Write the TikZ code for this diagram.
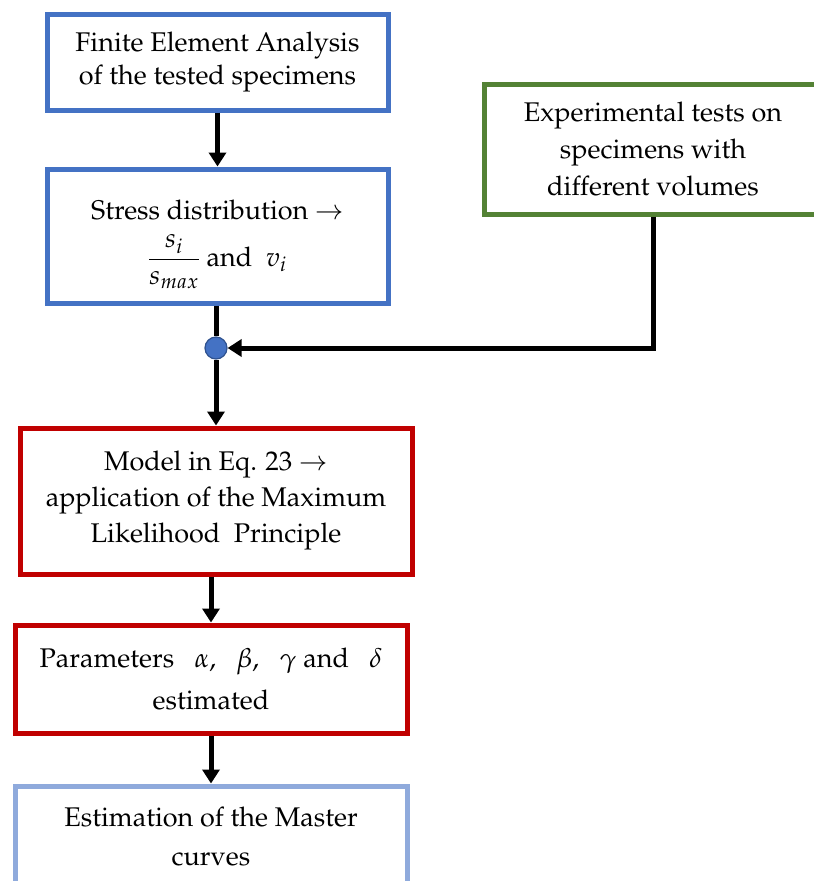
\documentclass[tikz,border=0pt]{standalone}
\usepackage[T1]{fontenc}
\usepackage{mathpazo}
\usetikzlibrary{arrows.meta}
\definecolor{cblue}{HTML}{4472C4}
\definecolor{cgreen}{HTML}{548235}
\definecolor{cred}{HTML}{C00000}
\definecolor{clight}{HTML}{8FAADC}
\definecolor{cdot}{HTML}{2F528F}
\tikzset{
  box/.style={draw, line width=5pt, rectangle, align=center, inner sep=0pt,
    font=\fontsize{27}{33}\selectfont, fill=white},
  conn/.style={line width=5pt, black, -{Triangle[width=17pt,length=14pt]}},
  plain/.style={line width=5pt, black},
}
\begin{document}
\begin{tikzpicture}[x=1pt,y=-1pt]
\useasboundingbox (0,0) rectangle (814,881);
\node[box, draw=cblue, minimum width=341pt, minimum height=96pt] (b1) at (217.5,62)
  {Finite Element Analysis\\of the tested specimens};
\node[box, draw=cblue, minimum width=341pt, minimum height=134pt] (b2) at (217.5,236)
  {\rule{0pt}{36pt}Stress distribution $\rightarrow$\\[14pt]$\displaystyle\frac{s_i}{s_{max}}$ and~~$v_i$};
\node[box, draw=cgreen, minimum width=338pt, minimum height=130pt,
  font=\fontsize{27}{37}\selectfont] (g) at (653,149)
  {Experimental tests on\\specimens with\\different volumes};
\node[circle, fill=cblue, draw=cdot, line width=1.2pt, minimum size=22pt, inner sep=0pt] (dot) at (216,348) {};
\node[box, draw=cred, minimum width=392pt, minimum height=146pt,
  font=\fontsize{27}{36}\selectfont] (b3) at (216,501)
  {Model in Eq. 23 $\rightarrow$\\application of the Maximum\\Likelihood~ Principle};
\node[box, draw=cred, minimum width=392pt, minimum height=108pt,
  font=\fontsize{27}{42}\selectfont] (b4) at (211,679)
  {Parameters~~ $\alpha$,~~ $\beta$,~~ $\gamma$ and~~ $\delta$\\estimated};
\node[box, draw=clight, minimum width=392pt, minimum height=102pt,
  font=\fontsize{27}{39}\selectfont] (b5) at (211,837)
  {Estimation of the Master\\curves};
\draw[conn] (b1.south) -- (b2.north);
\draw[plain] (b2.south -| dot) -- (dot.north);
\draw[conn] (dot.south) -- (dot |- b3.north);
\draw[conn] (g.south) |- (dot.east);
\draw[conn] (b4.north |- b3.south) -- (b4.north);
\draw[conn] (b5.north |- b4.south) -- (b5.north);
\end{tikzpicture}
\end{document}
